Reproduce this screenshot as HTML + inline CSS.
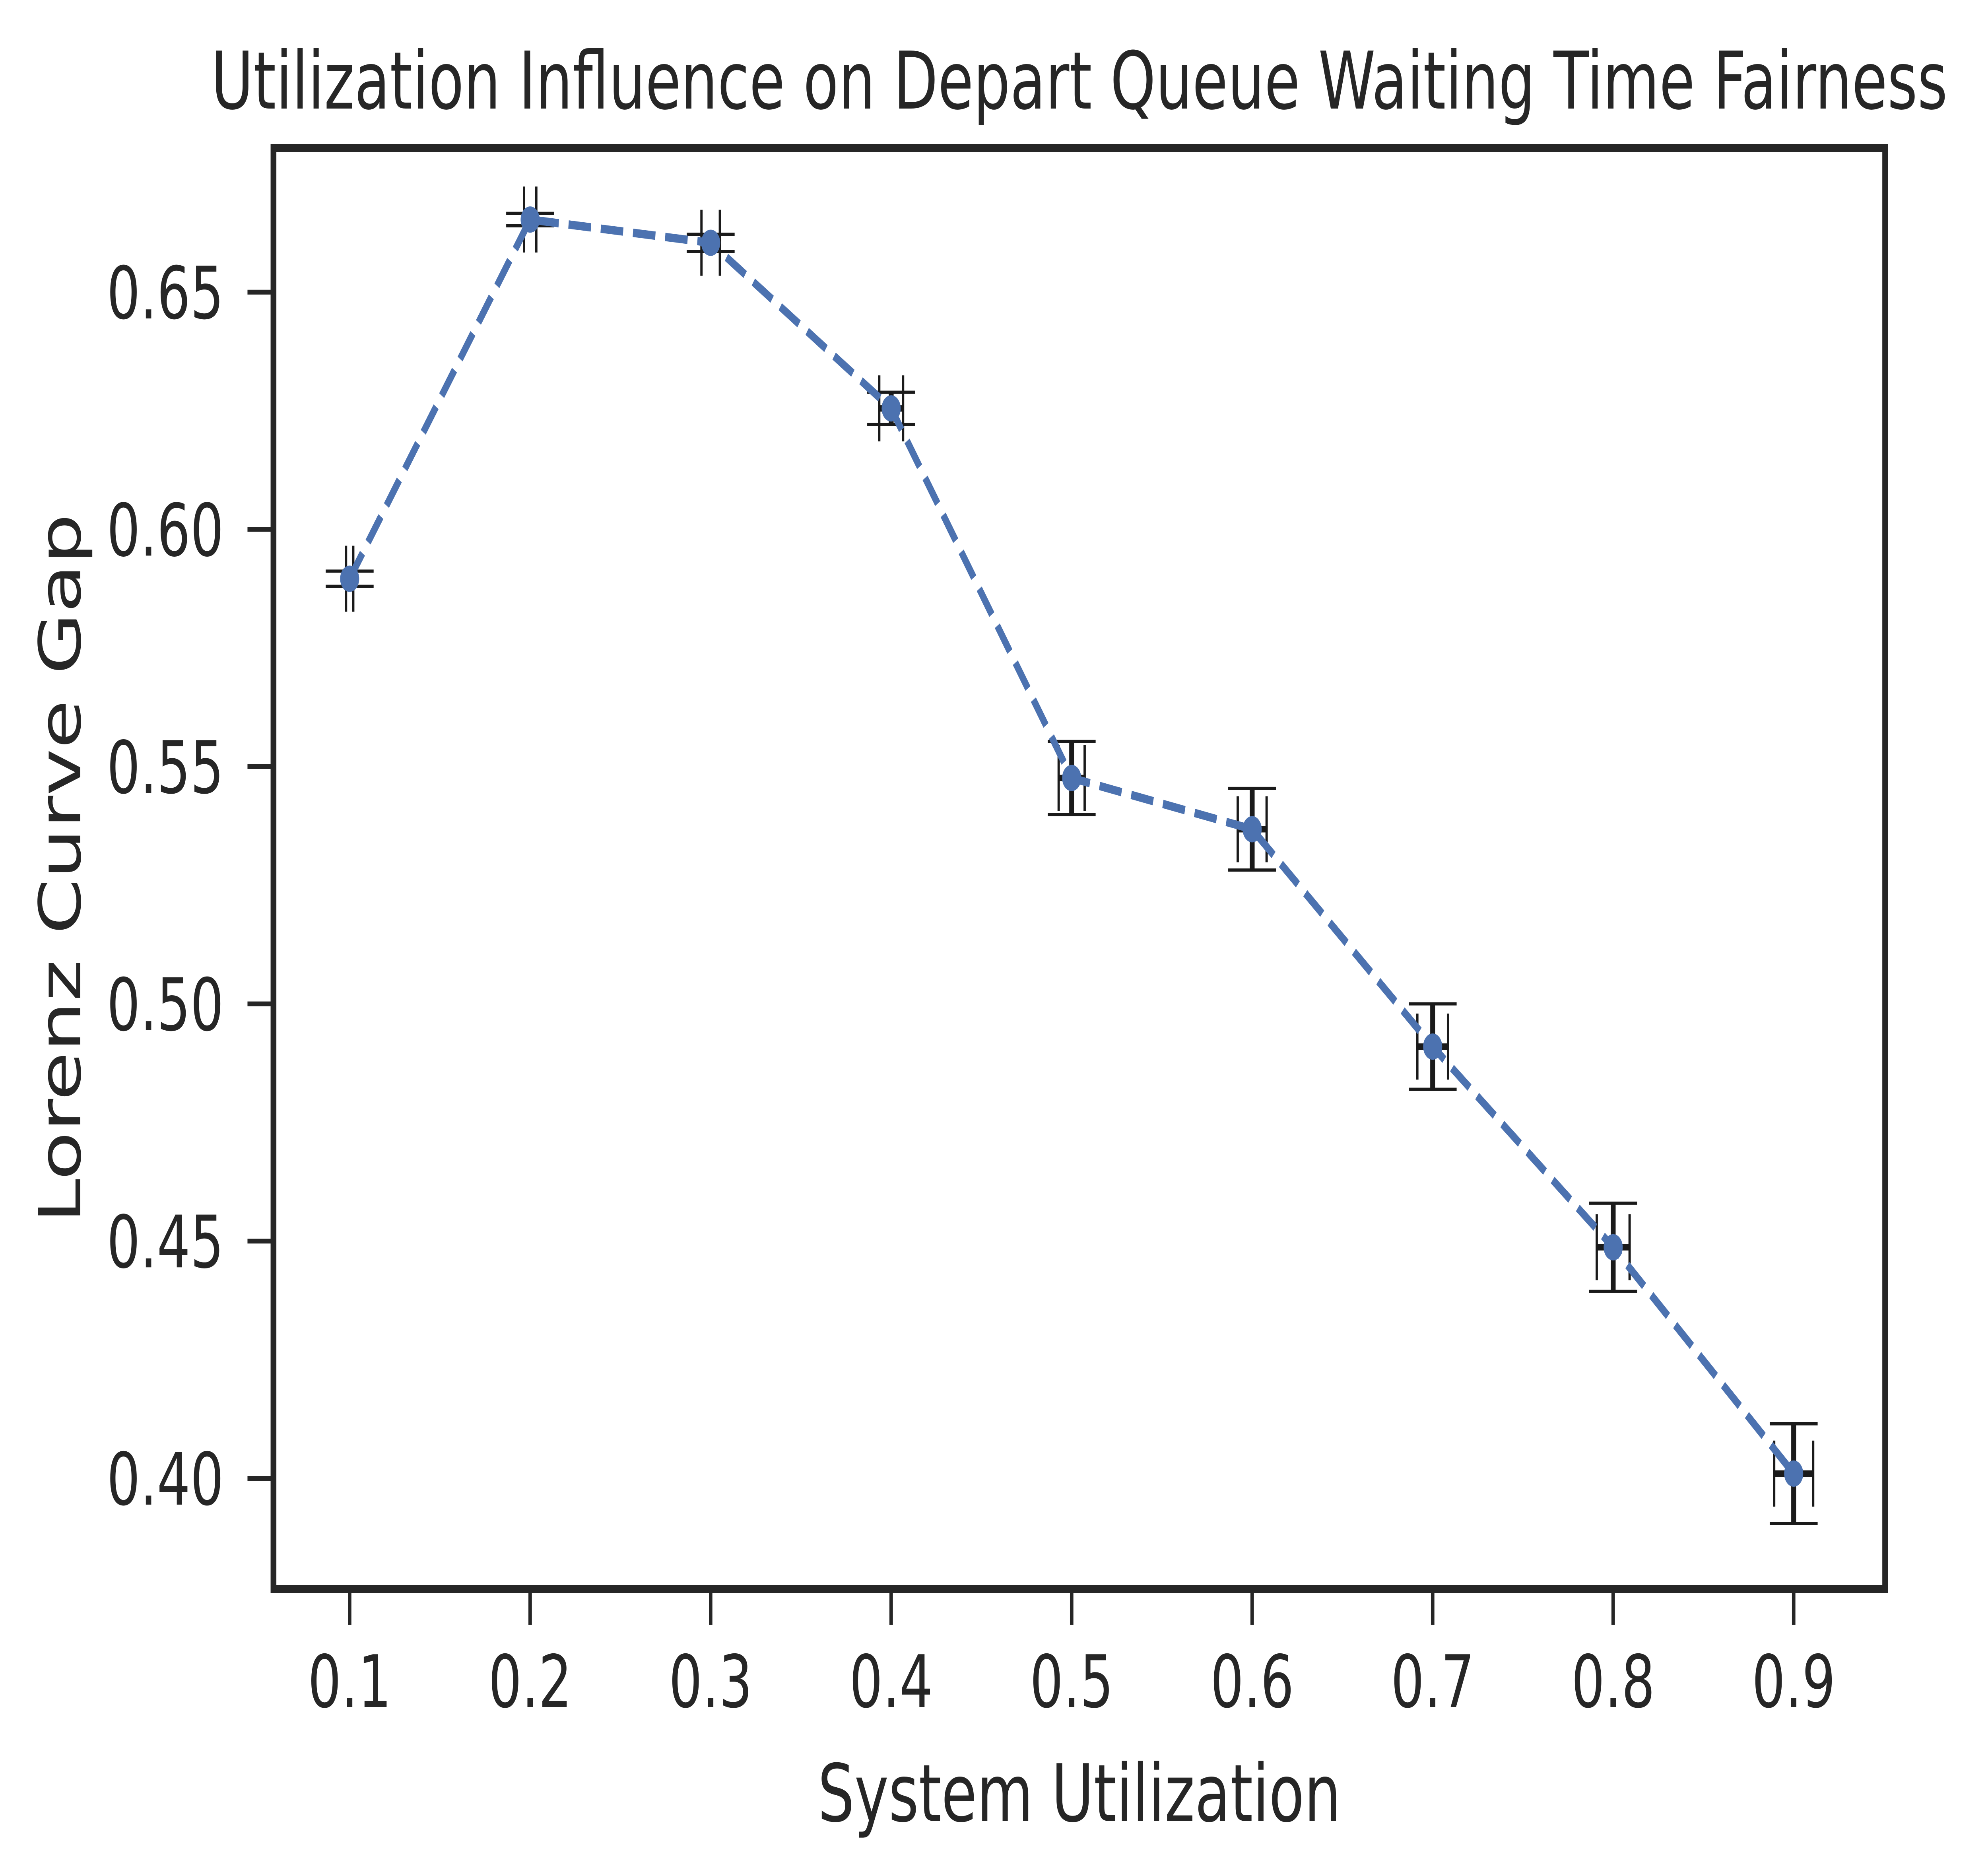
<!DOCTYPE html>
<html><head><meta charset="utf-8"><style>
html,body{margin:0;padding:0;background:#fff;width:100%;height:100%;overflow:hidden;}
svg{display:block;width:100vw;height:100vh;font-family:"DejaVu Sans","Liberation Sans",sans-serif;}
</style></head><body>
<svg id="chart" viewBox="0 0 6884 4713" preserveAspectRatio="none" xmlns="http://www.w3.org/2000/svg">
<rect width="6884" height="4713" fill="#fff"/>
<g id="errs"></g>
<g id="series"></g>
<g id="axes"></g>
</svg>
<script>
const categories = [0.1, 0.2, 0.3, 0.4, 0.5, 0.6, 0.7, 0.8, 0.9];
const values = [0.5896, 0.6653, 0.6604, 0.6255, 0.5476, 0.5368, 0.491, 0.4487, 0.401];
const yErr = [0.0016, 0.0013, 0.0018, 0.0034, 0.0077, 0.0086, 0.009, 0.0093, 0.0105];
const xErr = [0.002, 0.0034, 0.0051, 0.0066, 0.0072, 0.008, 0.0085, 0.0091, 0.0108];
const xTicks = [0.1, 0.2, 0.3, 0.4, 0.5, 0.6, 0.7, 0.8, 0.9];
const xTickLabels = ["0.1","0.2","0.3","0.4","0.5","0.6","0.7","0.8","0.9"];
const yTicks = [0.40, 0.45, 0.50, 0.55, 0.60, 0.65];
const yTickLabels = ["0.40","0.45","0.50","0.55","0.60","0.65"];

const NS = "http://www.w3.org/2000/svg";
const L = 947, R = 6528, T = 372, B = 3996;
const xMin = 0.0578, xMax = 0.9507, yMin = 0.3767, yMax = 0.6804;
function xs(v){ return L + (v - xMin) / (xMax - xMin) * (R - L); }
function ys(v){ return B - (v - yMin) / (yMax - yMin) * (B - T); }
function mk(tag, attrs, parent){ const e = document.createElementNS(NS, tag); for (const k in attrs) e.setAttribute(k, attrs[k]); parent.appendChild(e); return e; }

const errs = document.getElementById('errs');
const series = document.getElementById('series');
const axes = document.getElementById('axes');
const ink = "#1a1a1a", cap = 83;

categories.forEach((c, i) => {
  const cx = xs(c), cy = ys(values[i]);
  const g = mk('g', {}, errs);
  
  
  const y1 = ys(values[i] + yErr[i]), y2 = ys(values[i] - yErr[i]);
  const x1 = xs(c - xErr[i]), x2 = xs(c + xErr[i]);
  mk('line', {x1: cx, y1: y1, x2: cx, y2: y2, stroke: ink, 'stroke-width': 17}, g);
  mk('line', {x1: cx - cap, y1: y1, x2: cx + cap, y2: y1, stroke: ink, 'stroke-width': 8}, g);
  mk('line', {x1: cx - cap, y1: y2, x2: cx + cap, y2: y2, stroke: ink, 'stroke-width': 8}, g);
  mk('line', {x1: x1, y1: cy, x2: x2, y2: cy, stroke: ink, 'stroke-width': 16}, g);
  mk('line', {x1: x1, y1: cy - cap, x2: x1, y2: cy + cap, stroke: ink, 'stroke-width': 8}, g);
  mk('line', {x1: x2, y1: cy - cap, x2: x2, y2: cy + cap, stroke: ink, 'stroke-width': 8}, g);
});

const pts = categories.map((c, i) => xs(c) + ',' + ys(values[i])).join(' ');
const line = mk('polyline', {points: pts, fill: 'none', stroke: '#4c72b0', 'stroke-width': 21, 'stroke-dasharray': '78 34'}, series);


categories.forEach((c, i) => {
  const p = mk('circle', {cx: xs(c), cy: ys(values[i]), r: 33, fill: '#4c72b0'}, series);
  
  
});

const axc = "#262626";
const frame = mk('rect', {x: L, y: T, width: R - L, height: B - T, fill: 'none', stroke: axc, 'stroke-width': 20}, axes);



xTicks.forEach((v, i) => {
  const x = xs(v);
  const t = mk('line', {x1: x, y1: B, x2: x, y2: B + 90, stroke: axc, 'stroke-width': 12}, axes);
  
  
  const lab = mk('text', {x: x, y: 4293, 'font-size': 182, fill: axc, 'text-anchor': 'middle'}, axes);
  lab.textContent = xTickLabels[i];
  
  
});
yTicks.forEach((v, i) => {
  const y = ys(v);
  const t = mk('line', {x1: L - 90, y1: y, x2: L, y2: y, stroke: axc, 'stroke-width': 12}, axes);
  
  
  const lab = mk('text', {x: 775, y: y + 66, 'font-size': 182, fill: axc, 'text-anchor': 'end'}, axes);
  lab.textContent = yTickLabels[i];
  
  
});

const title = mk('text', {x: (L + R) / 2, y: 273, 'font-size': 200, fill: axc, 'text-anchor': 'middle'}, axes);
title.textContent = "Utilization Influence on Depart Queue Waiting Time Fairness";


const xl = mk('text', {x: (L + R) / 2, y: 4580, 'font-size': 200, fill: axc, 'text-anchor': 'middle'}, axes);
xl.textContent = "System Utilization";


const yl = mk('text', {x: 0, y: 0, 'font-size': 200, fill: axc, 'text-anchor': 'middle', transform: 'translate(278,' + ((T + B) / 2) + ') rotate(-90)'}, axes);
yl.textContent = "Lorenz Curve Gap";


</script>
</body></html>
